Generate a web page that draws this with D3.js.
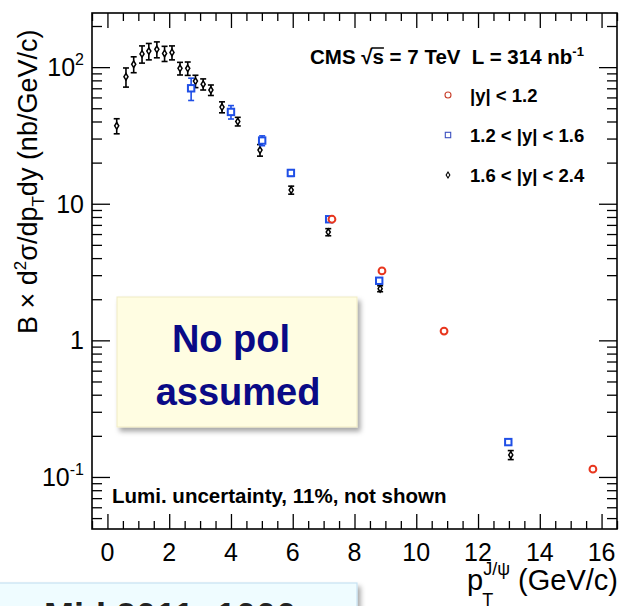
<!DOCTYPE html>
<html>
<head>
<meta charset="utf-8">
<script src="https://cdn.jsdelivr.net/npm/d3@7"></script>
<style>
  body { margin: 0; background: #fff; }
  svg { display: block; font-family: "Liberation Sans", Arial, Helvetica, sans-serif; }
</style>
</head>
<body>
<svg id="chart" width="624" height="606"></svg>
<script>
// 1.6 < |y| < 2.4 (black diamonds)
const ptBlack  = [0.30, 0.60, 0.85, 1.12, 1.34, 1.60, 1.85, 2.09, 2.35, 2.60, 2.85, 3.10, 3.35, 3.71, 4.22, 4.94, 5.95, 7.15, 8.83, 13.06];
const valBlack = [37.2, 85, 105, 125, 131, 135, 126, 128, 98, 98, 79, 75, 68, 51, 40, 24.7, 12.6, 6.2, 2.39, 0.145];
const errBlack = [4.7, 13.6, 14, 18, 18, 18, 16, 15, 10.4, 11, 8.2, 7, 6, 4.7, 2.9, 2.4, 0.85, 0.37, 0.12, 0.011];

// 1.2 < |y| < 1.6 (blue squares)
const ptBlue  = [2.71, 4.00, 5.01, 5.94, 7.18, 8.80, 12.98];
const valBlue = [70, 47, 29, 16.8, 7.7, 2.73, 0.18];
const errBlue = [13, 5.3, 2.4, 0.93, 0.26, 0.115, 0.009];

// |y| < 1.2 (red circles)
const ptRed  = [7.27, 8.89, 10.90, 15.72];
const valRed = [7.7, 3.22, 1.17, 0.114];
const errRed = [0.2, 0.08, 0.03, 0.003];

const xTicks = [0, 2, 4, 6, 8, 10, 12, 14, 16];
const yTicks = [0.1, 1, 10, 100];
const yTickLabels = [["10", "-1"], ["1", ""], ["10", ""], ["10", "2"]];

const legendLabels = ["|y| < 1.2", "1.2 < |y| < 1.6", "1.6 < |y| < 2.4"];

const svg = d3.select('#chart');

const x = d3.scaleLinear().domain([-0.5, 16.5]).range([92, 617]);
const y = d3.scaleLog().domain([0.0416, 249]).range([529, 13]);

const defs = svg.append('defs');
const shadow = defs.append('filter').attr('id', 'shadow')
    .attr('x', '-10%').attr('y', '-10%').attr('width', '130%').attr('height', '140%');
shadow.append('feDropShadow')
    .attr('dx', 3).attr('dy', 4).attr('stdDeviation', 2.5)
    .attr('flood-color', '#000').attr('flood-opacity', 0.35);

// ---- ticks (ROOT style, inside the frame on all sides)
const xMinor = d3.range(-0.5, 16.6, 0.5).filter(v => xTicks.indexOf(v) < 0);
const yMinor = [];
[0.01, 0.1, 1, 10, 100].forEach(dec => {
    for (let k = 2; k <= 9; k++) {
        const v = dec * k;
        if (v > 0.0416 && v < 249) yMinor.push(v);
    }
});

function addAxis(axis, tx, ty) {
    const g = svg.append('g')
        .attr('transform', `translate(${tx},${ty})`)
        .call(axis);
    g.select('.domain').remove();
    g.selectAll('text').remove();
    g.selectAll('line').attr('stroke', '#000').attr('stroke-width', 1.3);
}

addAxis(d3.axisBottom(x).tickValues(xTicks).tickSize(-15), 0, 529);
addAxis(d3.axisBottom(x).tickValues(xMinor).tickSize(-8), 0, 529);
addAxis(d3.axisTop(x).tickValues(xTicks).tickSize(-15), 0, 13);
addAxis(d3.axisTop(x).tickValues(xMinor).tickSize(-8), 0, 13);
addAxis(d3.axisLeft(y).tickValues(yTicks).tickSize(-18), 92, 0);
addAxis(d3.axisLeft(y).tickValues(yMinor).tickSize(-10), 92, 0);
addAxis(d3.axisRight(y).tickValues(yTicks).tickSize(-18), 617, 0);
addAxis(d3.axisRight(y).tickValues(yMinor).tickSize(-10), 617, 0);

// frame
svg.append('rect')
    .attr('x', 92).attr('y', 13)
    .attr('width', 617 - 92).attr('height', 529 - 13)
    .attr('fill', 'none').attr('stroke', '#000').attr('stroke-width', 1.6);

// ---- tick labels
svg.append('g').selectAll('text')
    .data(xTicks)
    .join('text')
        .attr('x', d => x(d))
        .attr('y', 561)
        .attr('text-anchor', 'middle')
        .attr('font-size', 25)
        .text(d => d);

const yLab = svg.append('g').selectAll('text')
    .data(yTicks)
    .join('text')
        .attr('x', 84)
        .attr('y', d => y(d) + 9)
        .attr('text-anchor', 'end')
        .attr('font-size', 25);
yLab.append('tspan').text((d, i) => yTickLabels[i][0]);
yLab.append('tspan')
    .attr('dy', -11)
    .attr('font-size', 16)
    .text((d, i) => yTickLabels[i][1]);

// ---- axis titles
const yTitle = svg.append('text')
    .attr('transform', 'translate(37,334) rotate(-90)')
    .attr('font-size', 27);
yTitle.append('tspan').text('B \u00d7 d');
yTitle.append('tspan').attr('dy', -11).attr('font-size', 17).text('2');
yTitle.append('tspan').attr('dy', 11).text('\u03c3/dp');
yTitle.append('tspan').attr('dy', 7).attr('font-size', 17).text('T');
yTitle.append('tspan').attr('dy', -7).text('dy (nb/GeV/c)');

const xTitle = svg.append('text')
    .attr('x', 618).attr('y', 590)
    .attr('text-anchor', 'end')
    .attr('font-size', 29);
xTitle.append('tspan').text('p');
xTitle.append('tspan').attr('dy', -15).attr('font-size', 18).text('J/\u03c8');
xTitle.append('tspan').attr('dy', 15).text(' (GeV/c)');
// subscript T under the superscript
const pBox = xTitle.node().getExtentOfChar(0);
svg.append('text')
    .attr('x', pBox.x + pBox.width - 1).attr('y', 606)
    .attr('font-size', 18)
    .text('T');

// ---- data
const series = [
    { pt: ptBlack, val: valBlack, err: errBlack, color: '#000', shape: 'diamond' },
    { pt: ptBlue, val: valBlue, err: errBlue, color: '#1f4fe6', shape: 'square' },
    { pt: ptRed, val: valRed, err: errRed, color: '#e8361e', shape: 'circle' }
];

function drawMarker(g, shape, color, size, sw) {
    if (shape === 'diamond') {
        g.append('path')
            .attr('d', `M0,${-size}L${size * 0.62},0L0,${size}L${-size * 0.62},0Z`)
            .attr('fill', '#fff').attr('stroke', color).attr('stroke-width', sw);
    } else if (shape === 'square') {
        g.append('rect')
            .attr('x', -size).attr('y', -size)
            .attr('width', size * 2).attr('height', size * 2)
            .attr('fill', '#fff').attr('stroke', color).attr('stroke-width', sw);
    } else {
        g.append('circle')
            .attr('r', size)
            .attr('fill', '#fff').attr('stroke', color).attr('stroke-width', sw);
    }
}

series.forEach(s => {
    const pts = s.pt.map((p, i) => ({ p: p, v: s.val[i], e: s.err[i] }));
    const g = svg.append('g');
    const pg = g.selectAll('g')
        .data(pts)
        .join('g');
    pg.append('line')
        .attr('x1', d => x(d.p)).attr('x2', d => x(d.p))
        .attr('y1', d => y(d.v - d.e)).attr('y2', d => y(d.v + d.e))
        .attr('stroke', s.color).attr('stroke-width', 1.6);
    [-1, 1].forEach(sign => {
        pg.append('line')
            .attr('x1', d => x(d.p) - 3).attr('x2', d => x(d.p) + 3)
            .attr('y1', d => y(d.v + sign * d.e)).attr('y2', d => y(d.v + sign * d.e))
            .attr('stroke', s.color).attr('stroke-width', 1.6);
    });
    pg.each(function (d) {
        const m = d3.select(this).append('g')
            .attr('transform', `translate(${x(d.p)},${y(d.v)})`);
        drawMarker(m, s.shape,
            s.color,
            s.shape === 'diamond' ? 3.3 : s.shape === 'square' ? 3.2 : 3.4,
            s.shape === 'diamond' ? 1.5 : 2);
    });
});

// ---- legend
const legColors = ['#c8402c', '#3c50c0', '#000'];
const legShapes = ['circle', 'square', 'diamond'];
legendLabels.forEach((lab, i) => {
    const ly = 95 + i * 40;
    const m = svg.append('g').attr('transform', `translate(448,${ly})`);
    drawMarker(m, legShapes[i], legColors[i], legShapes[i] === 'square' ? 2.7 : 3, 1.1);
    svg.append('text')
        .attr('x', 470).attr('y', ly + 7)
        .attr('font-size', 18.5).attr('font-weight', 'bold')
        .text(lab);
});

// header text
const head = svg.append('text')
    .attr('x', 310).attr('y', 64)
    .attr('font-size', 20.5).attr('font-weight', 'bold');
head.append('tspan').text('CMS \u221a');
head.append('tspan').text('s');
head.append('tspan').text(' = 7 TeV\u00a0\u00a0L = 314 nb');
head.append('tspan').attr('dy', -8).attr('font-size', 13).text('-1');
const sq = head.node().getExtentOfChar(5);
svg.append('line')
    .attr('x1', sq.x - 1).attr('x2', sq.x + sq.width)
    .attr('y1', 64 - 16).attr('y2', 64 - 16)
    .attr('stroke', '#000').attr('stroke-width', 1.5);

svg.append('text')
    .attr('x', 112).attr('y', 503)
    .attr('font-size', 20.5).attr('font-weight', 'bold')
    .text('Lumi. uncertainty, 11%, not shown');

// ---- "No pol assumed" note
svg.append('rect')
    .attr('x', 117).attr('y', 297)
    .attr('width', 240).attr('height', 130)
    .attr('fill', '#fffde2').attr('stroke', '#f0ebc4').attr('stroke-width', 1)
    .attr('filter', 'url(#shadow)');
svg.append('text')
    .attr('x', 231).attr('y', 352)
    .attr('text-anchor', 'middle')
    .attr('font-size', 38).attr('font-weight', 'bold').attr('fill', '#0a0a86')
    .text('No pol');
svg.append('text')
    .attr('x', 238).attr('y', 405)
    .attr('text-anchor', 'middle')
    .attr('font-size', 38).attr('font-weight', 'bold').attr('fill', '#0a0a86')
    .text('assumed');

// ---- cut-off note at the bottom
svg.append('rect')
    .attr('x', -4).attr('y', 583)
    .attr('width', 361).attr('height', 40)
    .attr('fill', '#effcff').attr('stroke', '#c6e2f2').attr('stroke-width', 1.2)
    .attr('filter', 'url(#shadow)');
svg.append('text')
    .attr('x', 44).attr('y', 629)
    .attr('font-size', 36).attr('font-weight', 'bold').attr('fill', '#222')
    .text('Mid 2011: 1000');
</script>
</body>
</html>
